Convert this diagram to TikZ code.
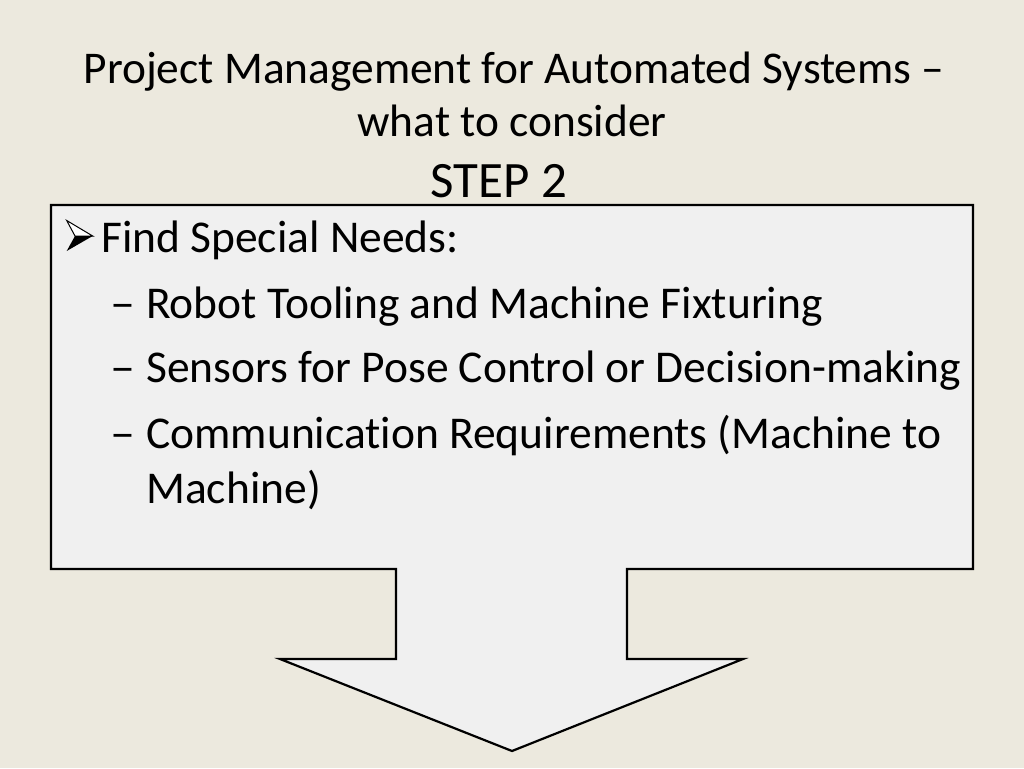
\documentclass[tikz,border=0pt]{standalone}
\usepackage{fontspec}
\setmainfont[Ligatures=NoCommon]{Carlito}
\definecolor{bgc}{HTML}{ECE9DE}
\definecolor{boxc}{HTML}{F0F0F0}
\begin{document}
\begin{tikzpicture}[x=1pt,y=-1pt,
  bodytxt/.style={anchor=base west,inner sep=0pt,font=\fontsize{45.5}{54}\selectfont},
  titletxt/.style={anchor=base,inner sep=0pt,font=\fontsize{45.4}{54}\selectfont}]
\fill[bgc] (0,0) rectangle (1024,768);
\useasboundingbox (0,0) rectangle (1024,768);
\draw[line width=2.2pt,fill=boxc,line join=miter]
  (51,205) -- (973,205) -- (973,569) -- (627,569) -- (627,659) -- (743,659)
  -- (512,751) -- (280,659) -- (396,659) -- (396,569) -- (51,569) -- cycle;
\node[titletxt] (t1) at (514,83) {Project Management for Automated Systems –};
\node[titletxt] (t2) at (512,136) {what to consider};
\node[titletxt,font=\fontsize{51}{60}\selectfont] (t3) at (499,197) {STEP 2};
% bullet
\coordinate (bl) at (66.7,220.5);
\coordinate (bt) at (92.7,236);
\coordinate (bn) at (75,236);
\coordinate (bb) at (66.7,251);
\draw[line width=1pt,fill=white,line join=miter] (bl) -- (bt) -- (bn) -- cycle;
\fill[black] (bn) -- (bt) -- (bb) -- cycle;
\node[bodytxt] (b1) at (101,252) {Find Special Needs:};
\node[bodytxt,xscale=1.1] (d1) at (110,318) {–};
\node[bodytxt] (b2) at (146,318) {Robot Tooling and Machine Fixturing};
\node[bodytxt,xscale=1.1] (d2) at (110,382) {–};
\node[bodytxt] (b3) at (146,382) {Sensors for Pose Control or Decision-making};
\node[bodytxt,xscale=1.1] (d3) at (110,448) {–};
\node[bodytxt] (b4) at (146,448) {Communication Requirements (Machine to};
\node[bodytxt] (b5) at (146,503) {Machine)};
\end{tikzpicture}
\end{document}
